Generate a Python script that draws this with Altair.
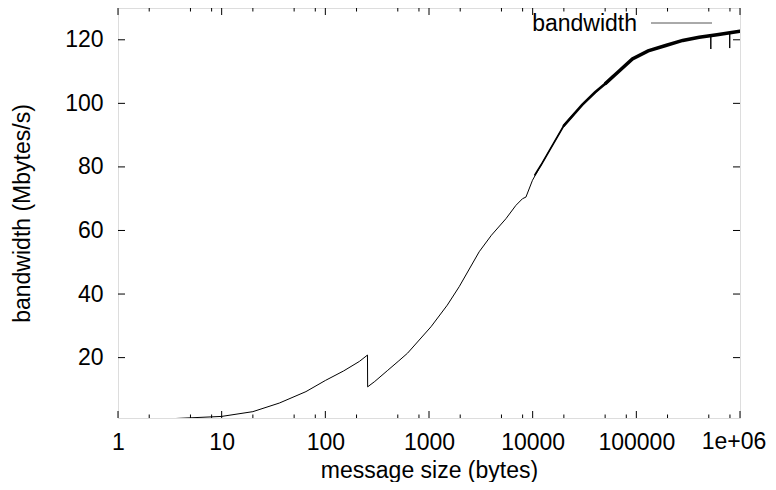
import altair as alt
import pandas as pd

# message size (bytes) and bandwidth (Mbytes/s)
sizes = [1, 2, 3, 3.9, 10, 20, 36, 65, 100, 150, 213, 255,
         256, 300, 400, 512, 621, 1045, 1500, 1954, 3048, 4000, 5520,
         6890, 7980, 8610, 9960, 12000, 13900, 20000, 30000, 50700,
         70000, 91600, 130000, 192000, 280000, 404000, 522000, 523000,
         524000, 700000, 795000, 796000, 797000, 900000, 1000000]
bandwidth = [0.3, 0.5, 0.7, 0.9, 1.5, 3.0, 5.7, 9.3, 12.8, 15.8, 18.8, 20.8,
             10.8, 12.5, 16.0, 19.0, 21.4, 29.7, 36.5, 42.3, 53.3, 58.5, 63.7,
             67.9, 70.0, 70.5, 75.8, 80.5, 84.1, 93.0, 99.5, 106.3,
             110.5, 114.0, 116.5, 118.2, 119.8, 120.8, 121.3, 117.1,
             121.3, 122.0, 122.2, 117.4, 122.2, 122.5, 122.7]

# the noisy part of the curve (drawn thicker)
noisy1_sizes = [10500, 12000, 13900, 20000, 25000]
noisy1_bw = [77.5, 80.5, 84.1, 93.0, 96.6]
noisy2_sizes = [20000, 30000, 40000, 50700, 60000]
noisy2_bw = [93.0, 99.5, 103.5, 106.3, 108.6]
noisy3_sizes = [50700, 70000, 91600, 130000, 192000,
                280000, 404000, 600000, 800000, 1000000]
noisy3_bw = [106.3, 110.5, 114.0, 116.5, 118.2,
             119.8, 120.8, 121.6, 122.2, 122.7]

x_major = [1, 10, 100, 1000, 10000, 100000, 1000000]
x_minor = [2, 5, 8, 20, 50, 80, 200, 500, 800, 2000, 5000, 8000,
           20000, 50000, 80000, 200000, 500000, 800000]
y_major = [20, 40, 60, 80, 100, 120]
last_label = ["1e+06"]

W, H = 622, 410
YMIN, YMAX = 1, 130
FONT = "Liberation Sans"
FS = 23
LPAD = 13

df = pd.DataFrame({"size": sizes, "bw": bandwidth})

xs = alt.Scale(type="log", domain=[1, 1000000], nice=False)
ys = alt.Scale(domain=[YMIN, YMAX], nice=False, zero=False)

x_axis = alt.Axis(values=x_major, labelExpr="datum.value >= 1000000 ? '' : format(datum.value, 'd')",
                  ticks=False, domain=False, grid=False, labelFont=FONT, labelFontSize=FS,
                  labelColor="black", labelPadding=LPAD, title="message size (bytes)",
                  titleFont=FONT, titleFontSize=FS, titleFontWeight="normal", titleColor="black",
                  titlePadding=5, labelFlush=False, labelOverlap=False)
y_axis = alt.Axis(values=y_major, ticks=False, domain=False, grid=False, labelFont=FONT,
                  labelFontSize=FS, labelColor="black", labelPadding=15,
                  title="bandwidth (Mbytes/s)", titleFont=FONT, titleFontSize=FS,
                  titleFontWeight="normal", titleColor="black", titlePadding=30)

line = alt.Chart(df).mark_line(color="black", strokeWidth=1, clip=True).encode(
    x=alt.X("size:Q", scale=xs, axis=x_axis),
    y=alt.Y("bw:Q", scale=ys, axis=y_axis),
    order="size:Q",
)

def noisy(sz, bw, width):
    return alt.Chart(pd.DataFrame({"size": sz, "bw": bw})).mark_line(
        color="black", strokeWidth=width, clip=True, strokeCap="round").encode(
        x=alt.X("size:Q", scale=xs), y=alt.Y("bw:Q", scale=ys))

noise1 = noisy(noisy1_sizes, noisy1_bw, 1.8)
noise2 = noisy(noisy2_sizes, noisy2_bw, 2.6)
noise3 = noisy(noisy3_sizes, noisy3_bw, 3.5)

dxm = pd.DataFrame({"v": x_major})
dxn = pd.DataFrame({"v": x_minor})
dym = pd.DataFrame({"v": y_major})

def xticks(d, length):
    b = alt.Chart(d).mark_rule(color="black", strokeWidth=1).encode(
        x=alt.X("v:Q", scale=xs), y=alt.value(H), y2=alt.value(H - length))
    t = alt.Chart(d).mark_rule(color="black", strokeWidth=1).encode(
        x=alt.X("v:Q", scale=xs), y=alt.value(0), y2=alt.value(length))
    return b + t

ytl = alt.Chart(dym).mark_rule(color="black", strokeWidth=1).encode(
    y=alt.Y("v:Q", scale=ys), x=alt.value(0), x2=alt.value(7))
ytr = alt.Chart(dym).mark_rule(color="black", strokeWidth=1).encode(
    y=alt.Y("v:Q", scale=ys), x=alt.value(W), x2=alt.value(W - 7))

# the last tick label, nudged so that it stays inside the picture
lastlab = alt.Chart(pd.DataFrame({"v": [x_major[-1]], "t": last_label})).mark_text(
    align="center", baseline="top", font=FONT, fontSize=FS, color="black", dx=-6).encode(
    x=alt.X("v:Q", scale=xs), y=alt.value(H + LPAD), text="t:N")

leg_text = alt.Chart(pd.DataFrame({"t": ["bandwidth"]})).mark_text(
    align="right", baseline="alphabetic", font=FONT, fontSize=FS, color="black").encode(
    text="t:N", x=alt.value(519), y=alt.value(23))
leg_line = alt.Chart(pd.DataFrame({"t": ["bandwidth"]})).mark_rule(
    color="#555555", strokeWidth=1).encode(
    x=alt.value(533), x2=alt.value(594), y=alt.value(15))

chart = alt.layer(
    line, noise1, noise2, noise3, xticks(dxm, 7), xticks(dxn, 3.5), ytl, ytr,
    lastlab, leg_text, leg_line
).properties(
    width=W, height=H,
    autosize=alt.AutoSizeParams(type="none"),
    padding={"left": 110, "top": 0, "right": 28, "bottom": 64},
).configure_view(stroke="black", strokeWidth=1).configure(background="white")

chart.save("out.html", embed_options={"renderer": "svg", "actions": False})
